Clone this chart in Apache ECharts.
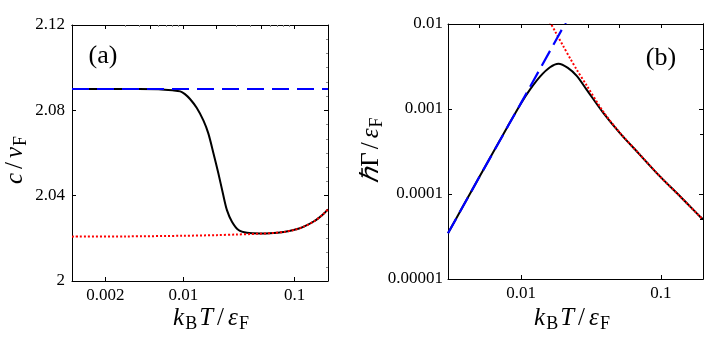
<!DOCTYPE html>
<html><head><meta charset="utf-8">
<script src="https://cdn.jsdelivr.net/npm/echarts@6/dist/echarts.min.js"></script>
<style>html,body{margin:0;padding:0;background:#fff}#c{width:708px;height:341px}</style>
</head><body><div id="c"></div>
<script>
// ---------- Panel (a): c / v_F vs k_B T / eps_F ----------
const aBlackT = [0.001, 0.002, 0.004, 0.006, 0.008, 0.0094, 0.01035, 0.0115, 0.0132, 0.0152, 0.0168, 0.0187, 0.0207, 0.0227, 0.0247, 0.0274, 0.0314, 0.0374, 0.0493, 0.06, 0.08, 0.1, 0.12, 0.15, 0.18, 0.2];
const aBlackC = [2.09, 2.09, 2.09, 2.0899, 2.0894, 2.0889, 2.0876, 2.0853, 2.0812, 2.0752, 2.0692, 2.0598, 2.0504, 2.0411, 2.0332, 2.0278, 2.0239, 2.0226, 2.0223, 2.0224, 2.0230, 2.0240, 2.0254, 2.0280, 2.0312, 2.0336];
const aRedT = [0.001, 0.003, 0.01, 0.02, 0.03, 0.04, 0.0493, 0.06, 0.08, 0.1, 0.12, 0.15, 0.18, 0.2];
const aRedC = [2.0208, 2.0209, 2.0212, 2.0215, 2.0218, 2.0220, 2.0222, 2.0224, 2.0230, 2.0240, 2.0254, 2.0280, 2.0312, 2.0336];
const aBlueT = [0.001, 0.2];
const aBlueC = [2.09, 2.09];

// ---------- Panel (b): hbar Gamma / eps_F vs k_B T / eps_F ----------
const bBlackT = [0.003, 0.004, 0.005, 0.006, 0.008, 0.01, 0.0116, 0.0137, 0.0161, 0.0185, 0.0216, 0.025, 0.0294, 0.0387, 0.0509, 0.07, 0.0984, 0.137, 0.19, 0.2];
const bBlackG = [3.45e-5, 8.1e-5, 1.56e-4, 2.67e-4, 6.2e-4, 1.17e-3, 1.7e-3, 2.42e-3, 3.1e-3, 3.41e-3, 3.05e-3, 2.45e-3, 1.69e-3, 9.0e-4, 5.2e-4, 2.95e-4, 1.61e-4, 9.4e-5, 5.44e-5, 5.05e-5];
const bRedT = [0.0155, 0.0175, 0.02, 0.0225, 0.025, 0.0294, 0.0387, 0.0509, 0.07, 0.0984, 0.137, 0.19, 0.2];
const bRedG = [0.0118, 8.2e-3, 5.5e-3, 3.9e-3, 2.9e-3, 1.9e-3, 9.3e-4, 5.25e-4, 2.96e-4, 1.61e-4, 9.4e-5, 5.44e-5, 5.05e-5];
const bBlueT = [0.003, 0.005, 0.01, 0.021];
const bBlueG = [3.45e-5, 1.56e-4, 1.18e-3, 1.06e-2];

// ---------- Tick values / labels ----------
const aXTicks = [0.002, 0.01, 0.1];
const aXTickLabels = ['0.002', '0.01', '0.1'];
const aXTopTicks = [0.002, 0.005, 0.01, 0.02, 0.05, 0.1];
const aXTopMinor = [0.003, 0.004, 0.006, 0.007, 0.008, 0.009, 0.03, 0.04, 0.06, 0.07, 0.08, 0.09];
const aYTicks = [2, 2.04, 2.08, 2.12];
const aYTickLabels = ['2', '2.04', '2.08', '2.12'];
const bXTicks = [0.01, 0.1];
const bXTickLabels = ['0.01', '0.1'];
const bXTopTicks = [0.005, 0.01, 0.03, 0.05, 0.1];
const bYTicks = [1e-5, 1e-4, 1e-3, 1e-2];
const bYTickLabels = ['0.00001', '0.0001', '0.001', '0.01'];
const bYMinor = [5e-5, 5e-4, 5e-3];

const FONT = 'Liberation Serif';
const pairs = (xs, ys) => xs.map((x, i) => [x, ys[i]]);
function lookup(ticks, labels, isLog) {
  return function (v) {
    for (let i = 0; i < ticks.length; i++) {
      const t = ticks[i];
      if (isLog ? Math.abs(Math.log10(v) - Math.log10(t)) < 1e-6 : Math.abs(v - t) < 1e-9) return labels[i];
    }
    return '';
  };
}
const lineBlack = { color: '#000', width: 1 };
const labelStyle = { fontFamily: FONT, fontSize: 17, color: '#000' };

function axis(base, extra) { return Object.assign({
  splitLine: { show: false }, axisLine: { show: true, onZero: false, lineStyle: lineBlack },
  axisLabel: { show: false }, axisTick: { show: false }
}, base, extra); }

const xAxis = [
  axis({ gridIndex: 0, type: 'log', logBase: 10, min: 0.001, max: 0.2, position: 'bottom' }, {
    axisTick: { show: true, inside: true, length: 4, customValues: aXTicks, lineStyle: lineBlack },
    axisLabel: Object.assign({ show: true, margin: 6, customValues: aXTicks, formatter: lookup(aXTicks, aXTickLabels, true) }, labelStyle)
  }),
  axis({ gridIndex: 0, type: 'log', logBase: 10, min: 0.001, max: 0.2, position: 'top' }, {
    axisTick: { show: true, inside: true, length: 4, customValues: aXTopTicks, lineStyle: lineBlack }
  }),
  axis({ gridIndex: 0, type: 'log', logBase: 10, min: 0.001, max: 0.2, position: 'top' }, {
    axisTick: { show: true, inside: true, length: 2, customValues: aXTopMinor, lineStyle: { color: '#888', width: 1 } }
  }),
  axis({ gridIndex: 1, type: 'log', logBase: 10, min: 0.003, max: 0.2, position: 'bottom' }, {
    axisTick: { show: true, inside: true, length: 4, customValues: bXTicks, lineStyle: lineBlack },
    axisLabel: Object.assign({ show: true, margin: 6, customValues: bXTicks, formatter: lookup(bXTicks, bXTickLabels, true) }, labelStyle)
  }),
  axis({ gridIndex: 1, type: 'log', logBase: 10, min: 0.003, max: 0.2, position: 'top' }, {
    axisTick: { show: true, inside: true, length: 4, customValues: bXTopTicks, lineStyle: lineBlack }
  })
];

const yAxis = [
  axis({ gridIndex: 0, type: 'value', min: 2, max: 2.12, interval: 0.04, position: 'left' }, {
    axisTick: { show: true, inside: true, length: 4, lineStyle: lineBlack },
    axisLabel: Object.assign({ show: true, margin: 7, formatter: lookup(aYTicks, aYTickLabels, false) }, labelStyle)
  }),
  axis({ gridIndex: 0, type: 'value', min: 2, max: 2.12, interval: 0.04, position: 'right' }, {
    axisTick: { show: true, inside: true, length: 4, lineStyle: lineBlack },
    minorTick: { show: true, splitNumber: 6, length: 2, lineStyle: { color: '#888', width: 1 } }
  }),
  axis({ gridIndex: 1, type: 'log', logBase: 10, min: 1e-5, max: 1e-2, position: 'left' }, {
    axisTick: { show: true, inside: true, length: 4, customValues: bYTicks, lineStyle: lineBlack },
    axisLabel: Object.assign({ show: true, margin: 5, customValues: bYTicks, formatter: lookup(bYTicks, bYTickLabels, true) }, labelStyle)
  }),
  axis({ gridIndex: 1, type: 'log', logBase: 10, min: 1e-5, max: 1e-2, position: 'right' }, {
    axisTick: { show: true, inside: true, length: 4, customValues: bYTicks, lineStyle: lineBlack }
  }),
  axis({ gridIndex: 1, type: 'log', logBase: 10, min: 1e-5, max: 1e-2, position: 'right' }, {
    axisTick: { show: true, inside: true, length: 3, customValues: bYMinor, lineStyle: lineBlack }
  })
];

function line(name, xi, yi, data, color, type, width, z, smooth) {
  return { name, type: 'line', xAxisIndex: xi, yAxisIndex: yi, data, showSymbol: false, symbol: 'none',
    smooth: smooth, z, silent: true, clip: true,
    lineStyle: { color, width, type, cap: 'butt', join: 'round' } };
}

const series = [
  line('a-black', 0, 0, pairs(aBlackT, aBlackC), '#000', 'solid', 2, 2, 0.3),
  line('a-red', 0, 0, pairs(aRedT, aRedC), '#ff0000', [2, 2], 2, 3, 0.3),
  line('a-blue', 0, 0, pairs(aBlueT, aBlueC), '#0000ff', [17, 8], 2.2, 4, false),
  line('b-black', 3, 2, pairs(bBlackT, bBlackG), '#000', 'solid', 2, 2, 0.3),
  line('b-red', 3, 2, pairs(bRedT, bRedG), '#ff0000', [2, 2], 2, 3, 0.3),
  line('b-blue', 3, 2, pairs(bBlueT, bBlueG), '#0000ff', [17, 7], 2.2, 4, false)
];

const rich = {
  i: { fontFamily: FONT, fontStyle: 'italic', fontSize: 25, color: '#000', padding: [0, 1, 0, 1] },
  r: { fontFamily: FONT, fontSize: 25, color: '#000' },
  sl: { fontFamily: FONT, fontSize: 25, color: '#000', padding: [0, 3, 0, 3] },
  s: { fontFamily: FONT, fontSize: 18, color: '#000', padding: [13, 1, 0, 0] },
  p: { fontFamily: FONT, fontSize: 26, color: '#000' }
};
function gtext(x, y, text, rot) {
  return { type: 'text', x, y, rotation: rot || 0, z: 100,
    style: { text, rich, fontFamily: FONT, fontSize: 25, fill: '#000',
      align: 'center', verticalAlign: 'middle', textAlign: 'center', textVerticalAlign: 'middle' } };
}

const option = {
  animation: false,
  backgroundColor: '#fff',
  grid: [
    { left: 72, top: 25, width: 256, height: 256 },
    { left: 448, top: 24, width: 255, height: 255 }
  ],
  xAxis, yAxis, series,
  graphic: [
    gtext(211, 318, '{i|k}{s|B}{i|T}{sl|/}{i|ε}{s|F}'),
    gtext(572, 318, '{i|k}{s|B}{i|T}{sl|/}{i|ε}{s|F}'),
    gtext(15, 160, '{i|c}{sl|/}{i|v}{s|F}', Math.PI / 2),
    gtext(371, 150, '{i|ℏ}{r|Γ}{sl|/}{i|ε}{s|F}', Math.PI / 2),
    gtext(103, 56, '{p|(a)}'),
    gtext(661, 58, '{p|(b)}')
  ]
};
echarts.init(document.getElementById('c'), null, { renderer: 'canvas' }).setOption(option);
</script></body></html>
